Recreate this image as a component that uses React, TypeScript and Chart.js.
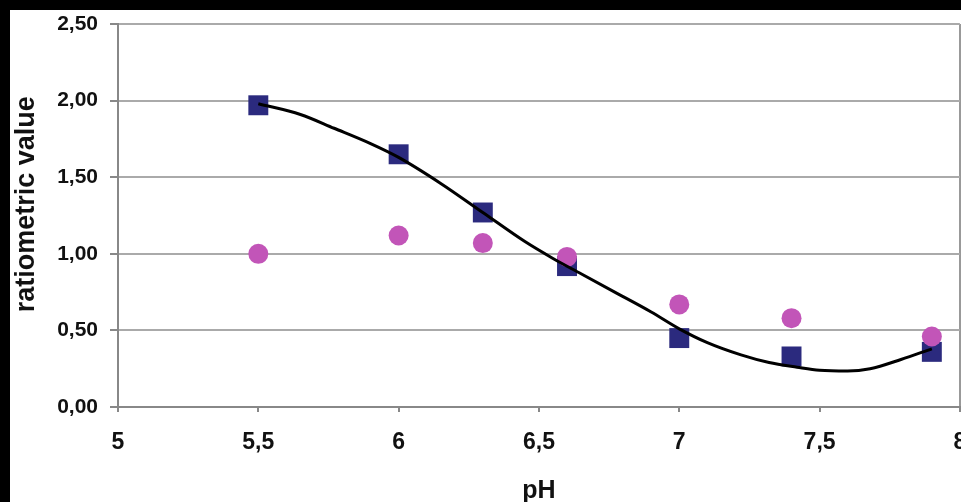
import React, { useEffect, useRef } from "react";
import { Chart, registerables } from "chart.js";

Chart.register(...registerables);

const phSquares = [5.5, 6.0, 6.3, 6.6, 7.0, 7.4, 7.9];
const squareValues = [1.97, 1.65, 1.27, 0.92, 0.45, 0.33, 0.36];

const phCircles = [5.5, 6.0, 6.3, 6.6, 7.0, 7.4, 7.9];
const circleValues = [1.0, 1.12, 1.07, 0.98, 0.67, 0.58, 0.46];

const fitPh = [5.5, 5.65, 5.77, 5.9, 6.0, 6.15, 6.3, 6.45, 6.55, 6.65, 6.77, 6.9, 7.0, 7.1, 7.22, 7.32, 7.42, 7.5, 7.6, 7.68, 7.79, 7.9];
const fitValues = [1.98, 1.91, 1.82, 1.72, 1.63, 1.46, 1.27, 1.08, 0.97, 0.87, 0.75, 0.62, 0.51, 0.42, 0.34, 0.29, 0.26, 0.24, 0.235, 0.25, 0.31, 0.38];

const xTicks = [5, 5.5, 6, 6.5, 7, 7.5, 8];
const yTicks = [0, 0.5, 1, 1.5, 2, 2.5];

const FONT = "'Liberation Sans', Arial, sans-serif";

export default function App() {
  const ref = useRef<HTMLCanvasElement | null>(null);

  useEffect(() => {
    if (!ref.current) return;
    const chart = new Chart(ref.current, {
      type: "scatter",
      data: {
        datasets: [
          {
            label: "fit",
            data: fitPh.map((x, i) => ({ x, y: fitValues[i] })),
            showLine: true,
            borderColor: "#000000",
            borderWidth: 3,
            pointRadius: 0,
            tension: 0.4,
            cubicInterpolationMode: "monotone",
            order: 0,
          },
          {
            label: "circles",
            data: phCircles.map((x, i) => ({ x, y: circleValues[i] })),
            pointStyle: "circle",
            pointRadius: 10,
            pointBorderWidth: 0,
            backgroundColor: "#C255B8",
            borderColor: "#C255B8",
            order: 1,
          },
          {
            label: "squares",
            data: phSquares.map((x, i) => ({ x, y: squareValues[i] })),
            pointStyle: "rect",
            pointRadius: 14.1,
            pointBorderWidth: 0,
            backgroundColor: "#2B2A7E",
            borderColor: "#2B2A7E",
            order: 2,
          },
        ],
      },
      options: {
        responsive: false,
        animation: false,
        layout: { padding: { top: 10, right: 2, left: 0, bottom: 0 } },
        plugins: { legend: { display: false }, tooltip: { enabled: false } },
        scales: {
          x: {
            type: "linear",
            min: 5,
            max: 8,
            afterBuildTicks: (s: any) => {
              s.ticks = xTicks.map((v) => ({ value: v }));
            },
            afterFit: (s: any) => {
              s.height = 95;
              s.paddingLeft = 0;
              s.paddingRight = 0;
            },
            border: { display: true, color: "#888888", width: 2 },
            grid: {
              drawOnChartArea: true,
              color: (c: any) => (c.tick && c.tick.value === 8 ? "#999999" : "rgba(0,0,0,0)"),
              tickColor: "#888888",
              lineWidth: 2,
              tickLength: 5,
            },
            ticks: {
              color: "#111111",
              font: { family: FONT, size: 23, weight: "bold" },
              padding: 17,
              maxRotation: 0,
              autoSkip: false,
              callback: (v: any) => String(v).replace(".", ","),
            },
            title: {
              display: true,
              text: "pH",
              color: "#111111",
              font: { family: FONT, size: 25, weight: "bold" },
              padding: { top: 0, bottom: -4 },
            },
          },
          y: {
            type: "linear",
            min: 0,
            max: 2.5,
            afterBuildTicks: (s: any) => {
              s.ticks = yTicks.map((v) => ({ value: v }));
            },
            afterFit: (s: any) => {
              s.width = 108;
              s.paddingTop = 0;
              s.paddingBottom = 0;
            },
            border: { display: true, color: "#888888", width: 2 },
            grid: {
              color: "#AAAAAA",
              tickColor: "#888888",
              lineWidth: 2,
              tickLength: 8,
            },
            ticks: {
              color: "#111111",
              font: { family: FONT, size: 21, weight: "bold" },
              padding: 12,
              autoSkip: false,
              callback: (v: any) => Number(v).toFixed(2).replace(".", ","),
            },
            title: {
              display: true,
              text: "   ratiometric value",
              color: "#111111",
              font: { family: FONT, size: 27, weight: "bold" },
              padding: { top: 0, bottom: 0 },
            },
          },
        },
      },
    });
    return () => chart.destroy();
  }, []);

  return (
    <div style={{ position: "fixed", left: 0, top: 0, width: 961, height: 502, background: "#000", overflow: "hidden" }}>
      <canvas
        ref={ref}
        width={964}
        height={492}
        style={{ position: "absolute", left: 10, top: 10, width: 964, height: 492, background: "#fff" }}
      />
    </div>
  );
}
